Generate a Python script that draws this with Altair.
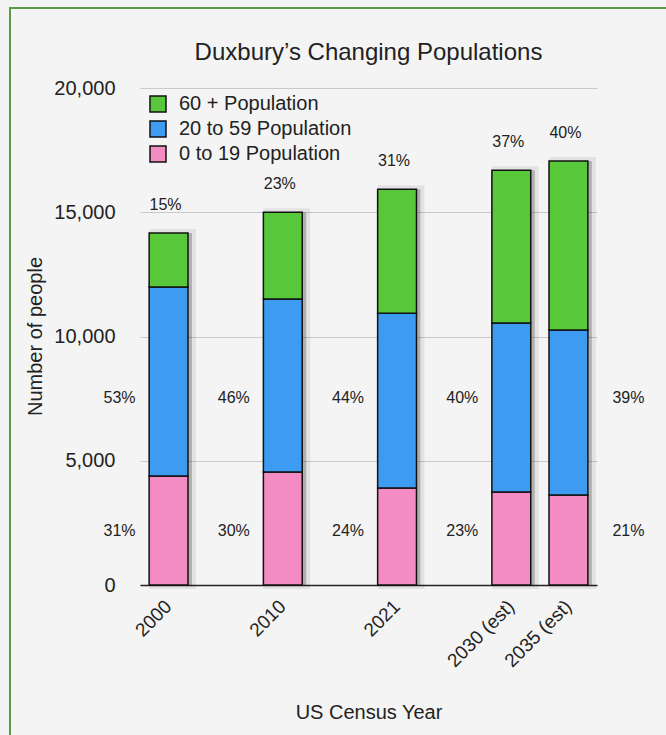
import altair as alt
import pandas as pd

# ---- data ----
years = ["2000", "2010", "2021", "2030 (est)", "2035 (est)"]
groups = ["60 + Population", "20 to 59 Population", "0 to 19 Population"]  # legend order
stack_bottom_to_top = ["0 to 19 Population", "20 to 59 Population", "60 + Population"]
pop_0_19 = [4390, 4545, 3900, 3740, 3620]
pop_20_59 = [7600, 6960, 7040, 6800, 6640]
pop_60_plus = [2170, 3500, 4990, 6150, 6800]
pct_0_19 = ["31%", "30%", "24%", "23%", "21%"]
pct_20_59 = ["53%", "46%", "44%", "40%", "39%"]
pct_60_plus = ["15%", "23%", "31%", "37%", "40%"]
# x slots: empty spacer slots between census years
x_domain = ["2000", " ", "2010", "  ", "2021", "   ", "2030 (est)", "2035 (est)"]
colors = ["#58c83a", "#3d9cf2", "#f48cc4"]
y_ticks = [0, 5000, 10000, 15000, 20000]

rows = []
for i, y in enumerate(years):
    rows.append({"year": y, "group": "0 to 19 Population", "value": pop_0_19[i], "pct": pct_0_19[i]})
    rows.append({"year": y, "group": "20 to 59 Population", "value": pop_20_59[i], "pct": pct_20_59[i]})
    rows.append({"year": y, "group": "60 + Population", "value": pop_60_plus[i], "pct": pct_60_plus[i]})
df = pd.DataFrame(rows)

FONT = "Liberation Sans"
TXT = "#222222"

x_scale = alt.Scale(domain=x_domain, paddingInner=0.32, paddingOuter=0.16)
y_scale = alt.Scale(domain=[0, 20000], nice=False)

x_axis = alt.Axis(
    title="US Census Year",
    labelAngle=-45,
    labelAlign="right",
    labelBaseline="middle",
    labelPadding=18,
    labelOffset=0,
    labelFontSize=19,
    labelColor=TXT,
    labelFont=FONT,
    ticks=False,
    domain=True,
    domainColor="#222222",
    domainWidth=1.5,
    grid=False,
    titleFontSize=20,
    titleFont=FONT,
    titleFontWeight="normal",
    titleColor=TXT,
    titleY=127,
    titleBaseline="middle",
)

y_axis = alt.Axis(
    title="Number of people",
    values=y_ticks,
    format=",d",
    labelPadding=25,
    labelFontSize=20,
    labelColor=TXT,
    labelFont=FONT,
    ticks=False,
    domain=False,
    grid=True,
    gridColor="#c9c9c9",
    gridWidth=1,
    titleFontSize=20,
    titleFont=FONT,
    titleFontWeight="normal",
    titleColor=TXT,
    titleX=-105,
    titleY=248,
    titleAlign="center",
    titleBaseline="middle",
)

# soft drop shadow behind each whole bar
shadow = alt.Chart(df).transform_aggregate(
    total="sum(value)", groupby=["year"]
).mark_bar(
    fill="black", fillOpacity=0.22, stroke="black", strokeOpacity=0.07, strokeWidth=8
).encode(
    x=alt.X("year:N", scale=x_scale, axis=x_axis),
    y=alt.Y("total:Q", scale=y_scale, axis=y_axis),
    y2=alt.datum(0),
    xOffset=alt.value(4),
)

bars = alt.Chart(df).transform_calculate(
    stackOrder="indexof(" + str(stack_bottom_to_top) + ", datum.group)"
).mark_bar(stroke="#111111", strokeWidth=1.5).encode(
    x=alt.X("year:N", scale=x_scale, axis=x_axis),
    y=alt.Y("value:Q", stack="zero", scale=y_scale, axis=y_axis),
    color=alt.Color(
        "group:N",
        scale=alt.Scale(domain=groups, range=colors),
        legend=alt.Legend(
            title=None,
            orient="none",
            legendX=8,
            legendY=6,
            symbolType="square",
            symbolSize=256,
            symbolStrokeColor="#111111",
            symbolStrokeWidth=1.5,
            symbolOpacity=1,
            labelFontSize=20,
            labelFont=FONT,
            labelColor=TXT,
            labelOffset=11,
            labelLimit=400,
            rowPadding=3,
        ),
    ),
    order=alt.Order("stackOrder:Q"),
)

# percentage above each bar (60+ share)
top_labels = alt.Chart(df).transform_joinaggregate(
    total="sum(value)", groupby=["year"]
).transform_filter(
    alt.datum.group == "60 + Population"
).mark_text(fontSize=16, font=FONT, color=TXT, dy=-28, dx=-3).encode(
    x=alt.X("year:N"),
    y=alt.Y("total:Q", scale=y_scale),
    text="pct:N",
)

last_year = years[-1]

def side_labels(group, level, dx, keep_last):
    cond = (alt.datum.year == last_year) if keep_last else (alt.datum.year != last_year)
    return alt.Chart(df).transform_filter(alt.datum.group == group).transform_filter(cond).mark_text(
        fontSize=16, font=FONT, color=TXT, dx=dx
    ).encode(
        x=alt.X("year:N"),
        y=alt.datum(level, scale=y_scale),
        text="pct:N",
    )

mid_blue_a = side_labels("20 to 59 Population", 7520, -49, False)
mid_blue_b = side_labels("20 to 59 Population", 7520, 60, True)
mid_pink_a = side_labels("0 to 19 Population", 2170, -49, False)
mid_pink_b = side_labels("0 to 19 Population", 2170, 60, True)

frame = alt.Chart(pd.DataFrame({"k": [0]})).mark_rect(
    fill="transparent", stroke="#5e9a44", strokeWidth=2
).encode(
    x=alt.value(-130), x2=alt.value(560), y=alt.value(-80), y2=alt.value(680)
)

chart = alt.layer(
    frame, shadow, bars, top_labels, mid_blue_a, mid_blue_b, mid_pink_a, mid_pink_b
).properties(
    width=457,
    height=497,
    title=alt.TitleParams(
        "Duxbury\u2019s Changing Populations",
        anchor="middle",
        fontSize=24,
        font=FONT,
        fontWeight="normal",
        color=TXT,
        offset=-58,
    ),
    autosize=alt.AutoSizeParams(type="none"),
    padding={"left": 140, "top": 88, "right": 69, "bottom": 150},
    background="#f4f4f4",
).configure_view(stroke=None)

chart.save("out.html", embed_options={"renderer": "svg", "actions": False})
